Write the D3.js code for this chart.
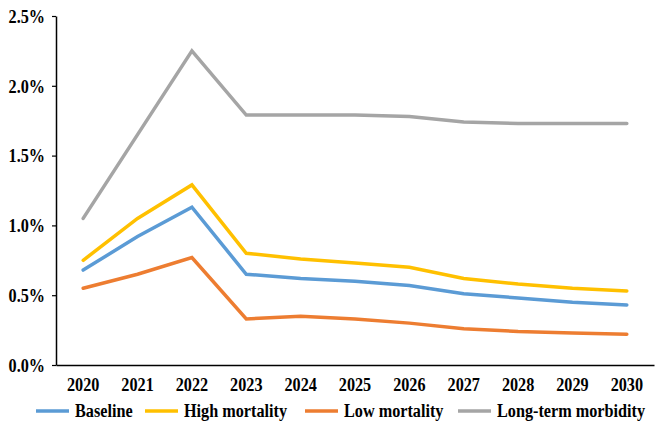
<!DOCTYPE html>
<html><head><meta charset="utf-8">
<script src="https://cdn.jsdelivr.net/npm/d3@7"></script>
<style>body{margin:0;background:#fff}</style>
</head><body><svg id="c" width="669" height="435"></svg>
<script>
const years = ["2020","2021","2022","2023","2024","2025","2026","2027","2028","2029","2030"];
const baseline = [0.68,0.92,1.13,0.65,0.62,0.60,0.57,0.51,0.48,0.45,0.43];
const highMortality = [0.75,1.05,1.29,0.80,0.76,0.73,0.70,0.62,0.58,0.55,0.53];
const lowMortality = [0.55,0.65,0.77,0.33,0.35,0.33,0.30,0.26,0.24,0.23,0.22];
const longTermMorbidity = [1.05,1.65,2.25,1.79,1.79,1.79,1.78,1.74,1.73,1.73,1.73];
const seriesNames = ["Baseline","High mortality","Low mortality","Long-term morbidity"];
const yTicks = [0,0.5,1.0,1.5,2.0,2.5];
const colors = ["#5B9BD5","#FFC000","#ED7D31","#A5A5A5"];
const FONT = "Liberation Serif, Tinos, Times New Roman, Times, DejaVu Serif, serif";
const FS = 18, SQUEEZE = 0.9;

function squeeze(sel){
  sel.each(function(){
    const w = this.getComputedTextLength();
    d3.select(this).attr("textLength", w*SQUEEZE).attr("lengthAdjust","spacingAndGlyphs");
  });
}

const series = [baseline, highMortality, lowMortality, longTermMorbidity];
const svg = d3.select("#c");
const x = d3.scaleBand().domain(years).range([56,654]);
const y = d3.scaleLinear().domain([0,2.5]).range([365,16]);

const ya = svg.append("g").attr("transform","translate(56,0)")
  .call(d3.axisLeft(y).tickValues(yTicks).tickFormat(d=>d.toFixed(1)+"%").tickSize(4).tickSizeOuter(0));
ya.attr("font-family",FONT).attr("font-weight","bold").attr("font-size",FS);
ya.select(".domain").attr("stroke","#000").attr("stroke-width",1.5);
ya.selectAll(".tick line").attr("stroke","#000").attr("stroke-width",1.2);
ya.selectAll(".tick text").attr("x",-11).attr("dy","0.35em").attr("fill","#000").call(squeeze);

const xa = svg.append("g").attr("transform","translate(0,365)")
  .call(d3.axisBottom(x).tickSize(0).tickSizeOuter(0));
xa.attr("font-family",FONT).attr("font-weight","bold").attr("font-size",FS);
xa.select(".domain").attr("stroke","#000").attr("stroke-width",1.5);
xa.selectAll(".tick text").attr("y",13).attr("dy","0.71em").attr("fill","#000").call(squeeze);

const line = d3.line().x((d,i)=>x(years[i])+x.bandwidth()/2).y(d=>y(d));
[3,1,0,2].forEach(k=>{
  svg.append("path").datum(series[k]).attr("d",line).attr("fill","none")
    .attr("stroke",colors[k]).attr("stroke-width",3.5).attr("stroke-linejoin","miter").attr("stroke-linecap","round");
});

const legX = [36,145,305,458];
const lg = svg.append("g").attr("font-family",FONT).attr("font-weight","bold").attr("font-size",FS);
seriesNames.forEach((n,i)=>{
  lg.append("line").attr("x1",legX[i]).attr("x2",legX[i]+33).attr("y1",411).attr("y2",411)
    .attr("stroke",colors[i]).attr("stroke-width",3.5);
  lg.append("text").attr("x",legX[i]+39).attr("y",411).attr("dy","0.35em").attr("fill","#000").text(n).call(squeeze);
});
</script></body></html>
